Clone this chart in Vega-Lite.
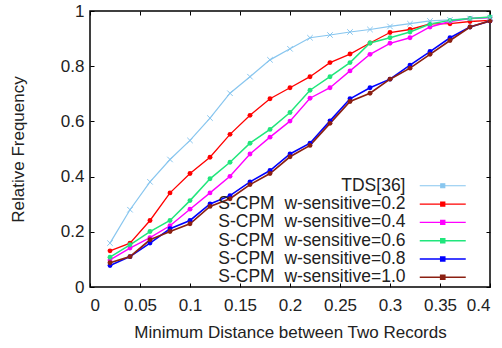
{
  "$schema": "https://vega.github.io/schema/vega-lite/v6.json",
  "width": 400,
  "height": 276,
  "autosize": {"type": "none"},
  "padding": {"left": 90, "top": 11, "right": 12, "bottom": 61},
  "config": {
    "font": "Liberation Sans",
    "view": {"stroke": "#000000", "strokeWidth": 1.5},
    "axis": {
      "domain": false,
      "grid": false,
      "tickColor": "#000000",
      "tickSize": -4,
      "tickWidth": 1,
      "labelFont": "Liberation Sans",
      "labelFontSize": 17,
      "labelColor": "#222222",
      "titleFont": "Liberation Sans",
      "titleFontSize": 17,
      "titleFontWeight": "normal",
      "titleColor": "#222222"
    }
  },
  "data": {
    "values": [
      {"d": 0.02, "s": "TDS[36]", "f": 0.159},
      {"d": 0.04, "s": "TDS[36]", "f": 0.28},
      {"d": 0.06, "s": "TDS[36]", "f": 0.381},
      {"d": 0.08, "s": "TDS[36]", "f": 0.462},
      {"d": 0.10, "s": "TDS[36]", "f": 0.531},
      {"d": 0.12, "s": "TDS[36]", "f": 0.612},
      {"d": 0.14, "s": "TDS[36]", "f": 0.702},
      {"d": 0.16, "s": "TDS[36]", "f": 0.762},
      {"d": 0.18, "s": "TDS[36]", "f": 0.823},
      {"d": 0.20, "s": "TDS[36]", "f": 0.863},
      {"d": 0.22, "s": "TDS[36]", "f": 0.903},
      {"d": 0.24, "s": "TDS[36]", "f": 0.913},
      {"d": 0.26, "s": "TDS[36]", "f": 0.924},
      {"d": 0.28, "s": "TDS[36]", "f": 0.933},
      {"d": 0.30, "s": "TDS[36]", "f": 0.944},
      {"d": 0.32, "s": "TDS[36]", "f": 0.954},
      {"d": 0.34, "s": "TDS[36]", "f": 0.964},
      {"d": 0.36, "s": "TDS[36]", "f": 0.968},
      {"d": 0.38, "s": "TDS[36]", "f": 0.973},
      {"d": 0.40, "s": "TDS[36]", "f": 0.976},

      {"d": 0.02, "s": "S-CPM\u00a0 w-sensitive=0.2", "f": 0.131},
      {"d": 0.04, "s": "S-CPM\u00a0 w-sensitive=0.2", "f": 0.159},
      {"d": 0.06, "s": "S-CPM\u00a0 w-sensitive=0.2", "f": 0.241},
      {"d": 0.08, "s": "S-CPM\u00a0 w-sensitive=0.2", "f": 0.341},
      {"d": 0.10, "s": "S-CPM\u00a0 w-sensitive=0.2", "f": 0.411},
      {"d": 0.12, "s": "S-CPM\u00a0 w-sensitive=0.2", "f": 0.470},
      {"d": 0.14, "s": "S-CPM\u00a0 w-sensitive=0.2", "f": 0.553},
      {"d": 0.16, "s": "S-CPM\u00a0 w-sensitive=0.2", "f": 0.622},
      {"d": 0.18, "s": "S-CPM\u00a0 w-sensitive=0.2", "f": 0.682},
      {"d": 0.20, "s": "S-CPM\u00a0 w-sensitive=0.2", "f": 0.722},
      {"d": 0.22, "s": "S-CPM\u00a0 w-sensitive=0.2", "f": 0.762},
      {"d": 0.24, "s": "S-CPM\u00a0 w-sensitive=0.2", "f": 0.813},
      {"d": 0.26, "s": "S-CPM\u00a0 w-sensitive=0.2", "f": 0.844},
      {"d": 0.28, "s": "S-CPM\u00a0 w-sensitive=0.2", "f": 0.884},
      {"d": 0.30, "s": "S-CPM\u00a0 w-sensitive=0.2", "f": 0.922},
      {"d": 0.32, "s": "S-CPM\u00a0 w-sensitive=0.2", "f": 0.933},
      {"d": 0.34, "s": "S-CPM\u00a0 w-sensitive=0.2", "f": 0.953},
      {"d": 0.36, "s": "S-CPM\u00a0 w-sensitive=0.2", "f": 0.954},
      {"d": 0.38, "s": "S-CPM\u00a0 w-sensitive=0.2", "f": 0.962},
      {"d": 0.40, "s": "S-CPM\u00a0 w-sensitive=0.2", "f": 0.966},

      {"d": 0.02, "s": "S-CPM\u00a0 w-sensitive=0.4", "f": 0.098},
      {"d": 0.04, "s": "S-CPM\u00a0 w-sensitive=0.4", "f": 0.141},
      {"d": 0.06, "s": "S-CPM\u00a0 w-sensitive=0.4", "f": 0.179},
      {"d": 0.08, "s": "S-CPM\u00a0 w-sensitive=0.4", "f": 0.222},
      {"d": 0.10, "s": "S-CPM\u00a0 w-sensitive=0.4", "f": 0.282},
      {"d": 0.12, "s": "S-CPM\u00a0 w-sensitive=0.4", "f": 0.341},
      {"d": 0.14, "s": "S-CPM\u00a0 w-sensitive=0.4", "f": 0.401},
      {"d": 0.16, "s": "S-CPM\u00a0 w-sensitive=0.4", "f": 0.482},
      {"d": 0.18, "s": "S-CPM\u00a0 w-sensitive=0.4", "f": 0.543},
      {"d": 0.20, "s": "S-CPM\u00a0 w-sensitive=0.4", "f": 0.601},
      {"d": 0.22, "s": "S-CPM\u00a0 w-sensitive=0.4", "f": 0.684},
      {"d": 0.24, "s": "S-CPM\u00a0 w-sensitive=0.4", "f": 0.722},
      {"d": 0.26, "s": "S-CPM\u00a0 w-sensitive=0.4", "f": 0.783},
      {"d": 0.28, "s": "S-CPM\u00a0 w-sensitive=0.4", "f": 0.843},
      {"d": 0.30, "s": "S-CPM\u00a0 w-sensitive=0.4", "f": 0.883},
      {"d": 0.32, "s": "S-CPM\u00a0 w-sensitive=0.4", "f": 0.903},
      {"d": 0.34, "s": "S-CPM\u00a0 w-sensitive=0.4", "f": 0.942},
      {"d": 0.36, "s": "S-CPM\u00a0 w-sensitive=0.4", "f": 0.962},
      {"d": 0.38, "s": "S-CPM\u00a0 w-sensitive=0.4", "f": 0.973},
      {"d": 0.40, "s": "S-CPM\u00a0 w-sensitive=0.4", "f": 0.976},

      {"d": 0.02, "s": "S-CPM\u00a0 w-sensitive=0.6", "f": 0.108},
      {"d": 0.04, "s": "S-CPM\u00a0 w-sensitive=0.6", "f": 0.153},
      {"d": 0.06, "s": "S-CPM\u00a0 w-sensitive=0.6", "f": 0.201},
      {"d": 0.08, "s": "S-CPM\u00a0 w-sensitive=0.6", "f": 0.241},
      {"d": 0.10, "s": "S-CPM\u00a0 w-sensitive=0.6", "f": 0.313},
      {"d": 0.12, "s": "S-CPM\u00a0 w-sensitive=0.6", "f": 0.392},
      {"d": 0.14, "s": "S-CPM\u00a0 w-sensitive=0.6", "f": 0.452},
      {"d": 0.16, "s": "S-CPM\u00a0 w-sensitive=0.6", "f": 0.521},
      {"d": 0.18, "s": "S-CPM\u00a0 w-sensitive=0.6", "f": 0.571},
      {"d": 0.20, "s": "S-CPM\u00a0 w-sensitive=0.6", "f": 0.632},
      {"d": 0.22, "s": "S-CPM\u00a0 w-sensitive=0.6", "f": 0.713},
      {"d": 0.24, "s": "S-CPM\u00a0 w-sensitive=0.6", "f": 0.762},
      {"d": 0.26, "s": "S-CPM\u00a0 w-sensitive=0.6", "f": 0.813},
      {"d": 0.28, "s": "S-CPM\u00a0 w-sensitive=0.6", "f": 0.884},
      {"d": 0.30, "s": "S-CPM\u00a0 w-sensitive=0.6", "f": 0.903},
      {"d": 0.32, "s": "S-CPM\u00a0 w-sensitive=0.6", "f": 0.924},
      {"d": 0.34, "s": "S-CPM\u00a0 w-sensitive=0.6", "f": 0.953},
      {"d": 0.36, "s": "S-CPM\u00a0 w-sensitive=0.6", "f": 0.966},
      {"d": 0.38, "s": "S-CPM\u00a0 w-sensitive=0.6", "f": 0.973},
      {"d": 0.40, "s": "S-CPM\u00a0 w-sensitive=0.6", "f": 0.978},

      {"d": 0.02, "s": "S-CPM\u00a0 w-sensitive=0.8", "f": 0.078},
      {"d": 0.04, "s": "S-CPM\u00a0 w-sensitive=0.8", "f": 0.110},
      {"d": 0.06, "s": "S-CPM\u00a0 w-sensitive=0.8", "f": 0.159},
      {"d": 0.08, "s": "S-CPM\u00a0 w-sensitive=0.8", "f": 0.211},
      {"d": 0.10, "s": "S-CPM\u00a0 w-sensitive=0.8", "f": 0.241},
      {"d": 0.12, "s": "S-CPM\u00a0 w-sensitive=0.8", "f": 0.301},
      {"d": 0.14, "s": "S-CPM\u00a0 w-sensitive=0.8", "f": 0.331},
      {"d": 0.16, "s": "S-CPM\u00a0 w-sensitive=0.8", "f": 0.381},
      {"d": 0.18, "s": "S-CPM\u00a0 w-sensitive=0.8", "f": 0.422},
      {"d": 0.20, "s": "S-CPM\u00a0 w-sensitive=0.8", "f": 0.482},
      {"d": 0.22, "s": "S-CPM\u00a0 w-sensitive=0.8", "f": 0.521},
      {"d": 0.24, "s": "S-CPM\u00a0 w-sensitive=0.8", "f": 0.602},
      {"d": 0.26, "s": "S-CPM\u00a0 w-sensitive=0.8", "f": 0.682},
      {"d": 0.28, "s": "S-CPM\u00a0 w-sensitive=0.8", "f": 0.722},
      {"d": 0.30, "s": "S-CPM\u00a0 w-sensitive=0.8", "f": 0.753},
      {"d": 0.32, "s": "S-CPM\u00a0 w-sensitive=0.8", "f": 0.804},
      {"d": 0.34, "s": "S-CPM\u00a0 w-sensitive=0.8", "f": 0.853},
      {"d": 0.36, "s": "S-CPM\u00a0 w-sensitive=0.8", "f": 0.903},
      {"d": 0.38, "s": "S-CPM\u00a0 w-sensitive=0.8", "f": 0.942},
      {"d": 0.40, "s": "S-CPM\u00a0 w-sensitive=0.8", "f": 0.964},

      {"d": 0.02, "s": "S-CPM\u00a0 w-sensitive=1.0", "f": 0.088},
      {"d": 0.04, "s": "S-CPM\u00a0 w-sensitive=1.0", "f": 0.110},
      {"d": 0.06, "s": "S-CPM\u00a0 w-sensitive=1.0", "f": 0.171},
      {"d": 0.08, "s": "S-CPM\u00a0 w-sensitive=1.0", "f": 0.201},
      {"d": 0.10, "s": "S-CPM\u00a0 w-sensitive=1.0", "f": 0.229},
      {"d": 0.12, "s": "S-CPM\u00a0 w-sensitive=1.0", "f": 0.292},
      {"d": 0.14, "s": "S-CPM\u00a0 w-sensitive=1.0", "f": 0.320},
      {"d": 0.16, "s": "S-CPM\u00a0 w-sensitive=1.0", "f": 0.371},
      {"d": 0.18, "s": "S-CPM\u00a0 w-sensitive=1.0", "f": 0.411},
      {"d": 0.20, "s": "S-CPM\u00a0 w-sensitive=1.0", "f": 0.472},
      {"d": 0.22, "s": "S-CPM\u00a0 w-sensitive=1.0", "f": 0.513},
      {"d": 0.24, "s": "S-CPM\u00a0 w-sensitive=1.0", "f": 0.593},
      {"d": 0.26, "s": "S-CPM\u00a0 w-sensitive=1.0", "f": 0.672},
      {"d": 0.28, "s": "S-CPM\u00a0 w-sensitive=1.0", "f": 0.702},
      {"d": 0.30, "s": "S-CPM\u00a0 w-sensitive=1.0", "f": 0.753},
      {"d": 0.32, "s": "S-CPM\u00a0 w-sensitive=1.0", "f": 0.793},
      {"d": 0.34, "s": "S-CPM\u00a0 w-sensitive=1.0", "f": 0.843},
      {"d": 0.36, "s": "S-CPM\u00a0 w-sensitive=1.0", "f": 0.893},
      {"d": 0.38, "s": "S-CPM\u00a0 w-sensitive=1.0", "f": 0.942},
      {"d": 0.40, "s": "S-CPM\u00a0 w-sensitive=1.0", "f": 0.964}
    ]
  },
  "layer": [
    {
      "mark": {"type": "line"},
      "encoding": {
        "x": {
          "field": "d", "type": "quantitative",
          "scale": {"domain": [0, 0.4], "nice": false, "zero": false},
          "axis": {"orient": "bottom", "title": "Minimum Distance between Two Records",
                   "values": [0, 0.05, 0.1, 0.15, 0.2, 0.25, 0.3, 0.35, 0.4], "format": "~g",
                   "labelPadding": 14, "titlePadding": 11}
        },
        "y": {
          "field": "f", "type": "quantitative",
          "scale": {"domain": [0, 1], "nice": false, "zero": false},
          "axis": {"orient": "left", "title": "Relative Frequency",
                   "values": [0, 0.2, 0.4, 0.6, 0.8, 1], "format": "~g",
                   "labelPadding": 10, "titlePadding": 33}
        },
        "color": {
          "field": "s", "type": "nominal",
          "scale": {
            "domain": ["TDS[36]", "S-CPM\u00a0 w-sensitive=0.2", "S-CPM\u00a0 w-sensitive=0.4", "S-CPM\u00a0 w-sensitive=0.6", "S-CPM\u00a0 w-sensitive=0.8", "S-CPM\u00a0 w-sensitive=1.0"],
            "range": ["#88c6ef", "#ff0000", "#ff00ff", "#20e67c", "#0000ff", "#8b2012"]
          },
          "legend": {
            "title": null,
            "orient": "none",
            "legendX": 344,
            "legendY": 166,
            "symbolType": "M-4.6,0H4.6M-0.4,-0.4H0.4V0.4H-0.4Z",
            "symbolSize": 100,
            "symbolStrokeWidth": 1.6,
            "labelAlign": "right",
            "labelOffset": -46,
            "labelFontSize": 17.5,
            "labelColor": "#222222",
            "labelLimit": 400,
            "rowPadding": -0.7,
            "encode": {"symbols": {"update": {"fill": {"scale": "color", "field": "value"}}}}
          }
        },
        "strokeWidth": {
          "field": "s", "type": "nominal",
          "scale": {
            "domain": ["TDS[36]", "S-CPM\u00a0 w-sensitive=0.2", "S-CPM\u00a0 w-sensitive=0.4", "S-CPM\u00a0 w-sensitive=0.6", "S-CPM\u00a0 w-sensitive=0.8", "S-CPM\u00a0 w-sensitive=1.0"],
            "range": [1.2, 1.7, 1.7, 1.7, 1.7, 1.7]
          },
          "legend": null
        }
      }
    },
    {
      "transform": [{"filter": "datum.s != 'TDS[36]'"}],
      "mark": {"type": "point", "filled": true, "size": 24, "opacity": 1},
      "encoding": {
        "x": {"field": "d", "type": "quantitative", "axis": null},
        "y": {"field": "f", "type": "quantitative", "axis": null},
        "color": {"field": "s", "type": "nominal", "legend": null}
      }
    },
    {
      "transform": [{"filter": "datum.s == 'TDS[36]'"}],
      "mark": {"type": "point", "filled": false, "shape": "M-1,-1L1,1M-1,1L1,-1", "size": 30, "strokeWidth": 1, "opacity": 1},
      "encoding": {
        "x": {"field": "d", "type": "quantitative", "axis": null},
        "y": {"field": "f", "type": "quantitative", "axis": null},
        "color": {"field": "s", "type": "nominal", "legend": null}
      }
    },
    {
      "mark": {"type": "line", "opacity": 0},
      "encoding": {
        "x": {"field": "d", "type": "quantitative",
              "scale": {"domain": [0, 0.4], "nice": false, "zero": false},
              "axis": {"orient": "top", "labels": false, "title": null, "values": [0, 0.05, 0.1, 0.15, 0.2, 0.25, 0.3, 0.35, 0.4]}},
        "y": {"field": "f", "type": "quantitative",
              "scale": {"domain": [0, 1], "nice": false, "zero": false},
              "axis": {"orient": "right", "labels": false, "title": null, "values": [0, 0.2, 0.4, 0.6, 0.8, 1]}},
        "detail": {"field": "s"}
      }
    }
  ],
  "resolve": {"axis": {"x": "independent", "y": "independent"}}
}
